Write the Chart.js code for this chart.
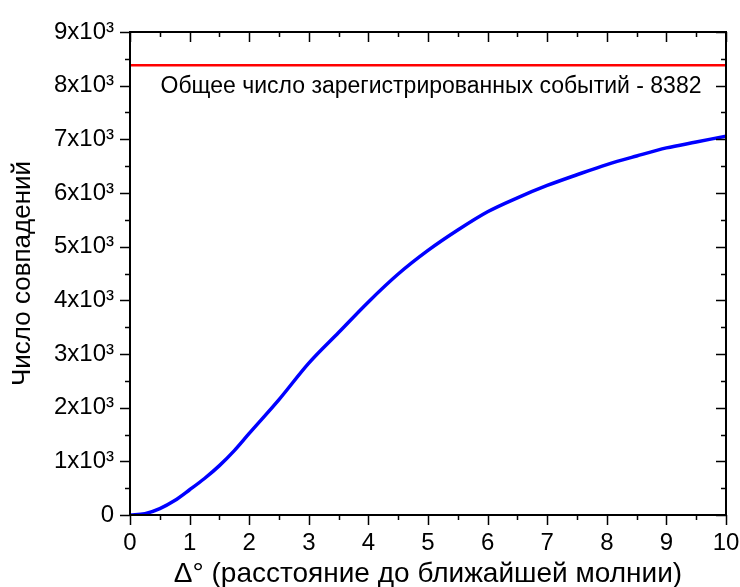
<!DOCTYPE html>
<html>
<head>
<meta charset="utf-8">
<script src="https://cdn.jsdelivr.net/npm/chart.js@4.4.1/dist/chart.umd.min.js"></script>
<style>
  html, body { margin: 0; padding: 0; background: #fff; }
  #wrap { width: 740px; height: 587px; }
</style>
</head>
<body>
<div id="wrap"><canvas id="chart" width="740" height="587"></canvas></div>
<script>
// distance to nearest lightning, degrees
const distance = [0, 0.25, 0.5, 0.75, 1, 1.25, 1.5, 1.75, 2, 2.5, 3, 3.5, 4, 4.5, 5, 5.5, 6, 6.5, 7, 7.5, 8, 8.5, 9, 9.5, 10];
// number of coincidences
const matches = [0, 25, 120, 270, 470, 680, 920, 1200, 1520, 2150, 2830, 3400, 3970, 4490, 4930, 5310, 5650, 5910, 6140, 6340, 6530, 6690, 6840, 6950, 7060];
const totalEvents = 8382;
const totalLabel = 'Общее число зарегистрированных событий - 8382';
const xTitle = 'Δ° (расстояние до ближайшей молнии)';
const yTitle = 'Число совпадений';

const FONT = '"Liberation Sans", Arial, sans-serif';

const frameTicks = {
  id: 'frameTicks',
  afterDraw(chart) {
    const { ctx, chartArea: a, scales: { x, y } } = chart;
    ctx.save();
    ctx.strokeStyle = '#000';
    ctx.lineWidth = 1.5;
    ctx.beginPath();
    // x ticks, every 0.5
    for (let v = 0; v <= 10.001; v += 0.5) {
      const px = Math.round(x.getPixelForValue(v)) + 0.5;
      const major = Math.abs(v - Math.round(v)) < 1e-6;
      const len = major ? 10 : 5;
      ctx.moveTo(px, a.bottom); ctx.lineTo(px, a.bottom + len);
      ctx.moveTo(px, a.top); ctx.lineTo(px, a.top + len);
    }
    // y ticks, every 500
    for (let v = 0; v <= 9000; v += 500) {
      const py = Math.round(y.getPixelForValue(v)) + 0.5;
      const len = v % 1000 === 0 ? 10 : 5;
      ctx.moveTo(a.left, py); ctx.lineTo(a.left - len, py);
      ctx.moveTo(a.right, py); ctx.lineTo(a.right - len, py);
    }
    ctx.stroke();
    ctx.lineWidth = 2;
    ctx.strokeRect(a.left, a.top, a.right - a.left, a.bottom - a.top);
    // caption under the red line
    ctx.fillStyle = '#000';
    ctx.font = '23px ' + FONT;
    ctx.textAlign = 'center';
    ctx.textBaseline = 'middle';
    ctx.fillText(totalLabel, (a.left + a.right) / 2 + 3, y.getPixelForValue(totalEvents) + 21);
    ctx.restore();
  }
};

new Chart(document.getElementById('chart'), {
  type: 'line',
  data: {
    datasets: [
      {
        data: distance.map((d, i) => ({ x: d, y: matches[i] })),
        borderColor: '#0000ff',
        borderWidth: 3.5,
        pointRadius: 0,
        cubicInterpolationMode: 'monotone',
        fill: false
      },
      {
        data: [{ x: 0, y: totalEvents }, { x: 10, y: totalEvents }],
        borderColor: '#ff0000',
        borderWidth: 2.5,
        pointRadius: 0,
        fill: false
      }
    ]
  },
  options: {
    responsive: false,
    animation: false,
    layout: { padding: { top: 32, right: 0, left: 0, bottom: 0 } },
    plugins: { legend: { display: false }, tooltip: { enabled: false } },
    scales: {
      x: {
        type: 'linear',
        min: 0,
        max: 10,
        afterFit(s) { s.height = 72; s.paddingRight = 14; s.paddingLeft = 0; },
        grid: { display: false },
        border: { display: false },
        ticks: {
          stepSize: 1,
          color: '#000',
          padding: 6,
          maxRotation: 0,
          font: { family: FONT, size: 24 }
        },
        title: {
          display: true,
          text: xTitle,
          color: '#000',
          padding: { top: 0, bottom: -4 },
          font: { family: FONT, size: 28 }
        }
      },
      y: {
        type: 'linear',
        min: 0,
        max: 9000,
        afterFit(s) { s.width = 130; s.paddingTop = 0; s.paddingBottom = 0; },
        grid: { display: false },
        border: { display: false },
        ticks: {
          stepSize: 1000,
          color: '#000',
          padding: 8,
          font: { family: FONT, size: 24 },
          callback: v => v === 0 ? '0' : (v / 1000) + 'x10³'
        },
        title: {
          display: true,
          text: yTitle,
          color: '#000',
          padding: { top: 7, bottom: 0 },
          font: { family: FONT, size: 26 }
        }
      }
    }
  },
  plugins: [frameTicks]
});
</script>
</body>
</html>
